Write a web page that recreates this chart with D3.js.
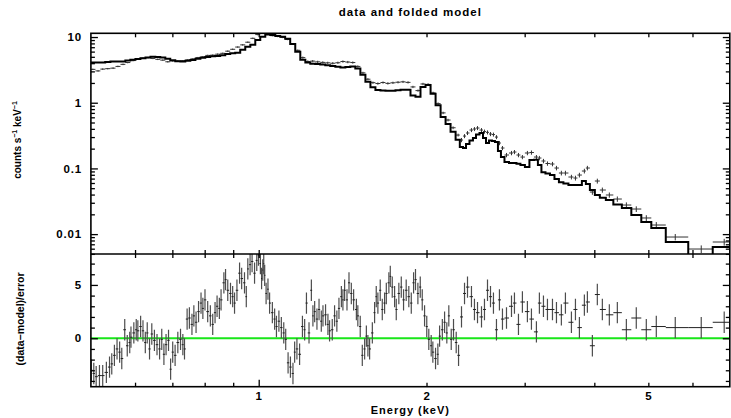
<!DOCTYPE html>
<html>
<head>
<script src="https://cdn.jsdelivr.net/npm/d3@7/dist/d3.min.js"></script>
<style>
  body { margin: 0; background: #fff; }
  svg { display: block; }
</style>
</head>
<body>
<svg id="chart" width="731" height="418"></svg>
<script>
// upper panel bins below 2.3 keV (keV)
const bandE = [0.504,0.515,0.525,0.536,0.548,0.559,0.571,0.582,0.595,0.607,
  0.620,0.633,0.646,0.659,0.673,0.687,0.701,0.716,0.731,0.746,
  0.762,0.778,0.794,0.810,0.827,0.844,0.862,0.880,0.898,0.917,
  0.936,0.956,0.976,0.996,
  1.017,1.038,1.060,1.082,1.104,1.127,1.151,1.175,1.200,1.225,
  1.250,1.276,1.303,1.330,1.358,1.387,1.416,1.445,1.475,1.506,
  1.538,1.570,1.603,1.636,1.671,1.705,1.741,1.778,1.815,1.853,
  1.891,1.931,1.971,2.013,2.055,2.098,2.142,2.186,2.232,2.279];
const bandRate = [3.22,3.05,3.25,3.30,3.36,3.57,3.84,4.09,4.38,4.60,
  4.76,4.86,4.73,4.58,4.45,4.20,4.33,4.31,4.36,4.49,
  4.65,4.86,5.00,5.25,5.30,5.48,5.65,6.09,6.51,7.04,
  7.60,8.34,9.56,10.9,
  12.0,11.0,10.5,10.2,9.87,9.18,7.86,6.28,4.86,4.24,
  4.30,4.19,4.11,4.05,3.99,4.06,4.24,4.16,4.09,3.57,
  2.85,2.28,2.02,1.96,2.03,1.97,2.01,2.05,2.08,2.04,
  1.74,1.53,1.93,1.90,1.41,0.97,0.70,0.545,0.416,0.322];
const bandErr = [0.08,0.08,0.08,0.08,0.09,0.09,0.10,0.10,0.11,0.12,
  0.12,0.12,0.12,0.12,0.11,0.11,0.11,0.11,0.11,0.11,
  0.12,0.12,0.13,0.13,0.13,0.14,0.14,0.15,0.16,0.18,
  0.19,0.21,0.24,0.27,
  0.30,0.27,0.26,0.26,0.25,0.23,0.20,0.16,0.19,0.17,
  0.17,0.17,0.16,0.16,0.16,0.16,0.17,0.17,0.16,0.14,
  0.11,0.09,0.08,0.08,0.08,0.08,0.08,0.08,0.08,0.08,
  0.07,0.06,0.08,0.08,0.06,0.04,0.03,0.025,0.02,0.016];
const bandModel = [4.09,4.09,4.09,4.16,4.24,4.24,4.26,4.38,4.53,4.64,
  4.76,4.86,5.00,4.98,4.90,4.69,4.45,4.28,4.26,4.35,
  4.49,4.69,4.83,4.98,5.09,5.16,5.28,5.50,5.65,5.77,
  6.40,7.09,7.60,9.02,
  10.1,10.9,10.7,10.4,10.1,9.40,7.86,5.97,4.53,4.09,
  3.93,3.87,3.82,3.71,3.63,3.54,3.45,3.50,3.55,3.33,
  2.66,2.08,1.72,1.56,1.53,1.52,1.52,1.55,1.58,1.57,
  1.29,1.23,1.73,1.86,1.37,0.913,0.606,0.474,0.362,0.272];

// wider bins above 2.3 keV, shared by both panels
const coarseE = [2.311,2.340,2.369,2.408,2.438,2.469,2.510,2.541,2.573,2.605,
  2.637,2.670,2.703,2.737,2.783,2.841,2.876,2.924,2.972,3.034,
  3.085,3.149,3.188,3.242,3.296,3.365,3.421,3.491,3.550,3.639,
  3.700,3.761,3.839,3.887,3.968,4.050,4.135,4.256,4.399,4.566,
  4.757,4.958,5.167,5.588,6.221,6.840];
const coarseRate = [0.2705,0.311,0.346,0.384,0.398,0.412,0.384,0.364,0.354,0.334,
  0.328,0.300,0.2435,0.2044,0.160,0.1716,0.1777,0.160,0.149,0.1716,
  0.1746,0.149,0.144,0.1297,0.1188,0.1167,0.1014,0.0851,0.0851,0.074,
  0.0714,0.0793,0.0913,0.1014,0.0437,0.0643,0.0469,0.0394,0.0342,0.0277,
  0.0241,0.0176,0.01375,0.00903,0.00593,0.00758];
const coarseErr = [0.02,0.022,0.024,0.027,0.028,0.029,0.027,0.026,0.025,0.024,
  0.023,0.021,0.018,0.015,0.012,0.013,0.013,0.012,0.011,0.013,
  0.013,0.011,0.011,0.010,0.009,0.009,0.008,0.007,0.007,0.006,
  0.006,0.0065,0.0075,0.008,0.004,0.0055,0.0042,0.0036,0.0032,0.0027,
  0.0024,0.0018,0.0015,0.001,0.0008,0.0009];
const coarseModel = [0.212,0.204,0.235,0.266,0.290,0.327,0.346,0.290,0.2435,0.266,
  0.261,0.252,0.184,0.149,0.125,0.121,0.121,0.118,0.113,0.105,
  0.134,0.136,0.113,0.0872,0.0836,0.0793,0.069,0.0614,0.0589,0.0559,
  0.0559,0.0559,0.0643,0.0579,0.0469,0.0394,0.0357,0.033,0.0282,0.0250,
  0.0195,0.0153,0.0124,0.00758,0.0048,0.00636];
const coarseRes = [2.0,4.2,4.8,3.9,2.7,2.4,2.0,2.7,4.5,3.9,
  3.3,0.8,3.6,1.8,1.9,3.0,3.3,1.3,3.4,2.5,
  1.8,0.6,3.3,3.0,2.7,2.7,2.4,2.2,3.3,1.5,
  2.7,1.0,3.1,3.4,-0.7,4.1,2.7,2.2,2.4,0.8,
  1.9,0.8,1.1,1.0,1.0,1.5];

// residual bins below 2.3 keV
const fineE = [0.501,0.506,0.511,0.518,0.525,0.533,0.540,0.545,0.551,0.557,
  0.563,0.568,0.575,0.581,0.587,0.590,0.597,0.603,0.607,0.614,
  0.620,0.626,0.631,0.637,0.643,0.650,0.657,0.664,0.670,0.676,
  0.682,0.689,0.695,0.701,0.708,0.716,0.724,0.731,0.736,0.744,
  0.751,0.759,0.765,0.772,0.780,0.788,0.794,0.801,0.810,0.819,
  0.827,0.835,0.842,0.850,0.856,0.866,0.872,0.880,0.890,0.898,
  0.905,0.914,0.924,0.932,0.943,0.950,0.956,0.965,0.973,0.983,
  0.992,0.999,1.007,1.012,1.017,1.021,1.025,1.031,1.039,1.046,
  1.058,1.068,1.076,1.087,1.098,1.109,1.118,1.129,1.140,1.152,
  1.160,1.171,1.184,1.198,1.209,1.218,1.231,1.243,1.251,1.260,
  1.272,1.283,1.295,1.304,1.318,1.331,1.340,1.355,1.368,1.381,
  1.393,1.407,1.416,1.426,1.440,1.452,1.466,1.480,1.497,1.506,
  1.521,1.534,1.549,1.560,1.570,1.581,1.599,1.614,1.625,1.636,
  1.652,1.666,1.682,1.694,1.712,1.722,1.736,1.753,1.765,1.784,
  1.802,1.819,1.839,1.859,1.878,1.896,1.911,1.930,1.949,1.965,
  1.984,2.002,2.019,2.039,2.053,2.076,2.096,2.111,2.135,2.155,
  2.175,2.193,2.215,2.236,2.261,2.283];
const fineRes = [-3.0,-3.3,-3.6,-3.5,-3.5,-3.2,-2.7,-2.4,-1.6,-1.0,
  -1.3,-1.9,0.8,-0.7,-0.4,0.1,0.5,0.8,0.7,1.1,
  0.7,-0.4,0.5,-1.0,0.4,-0.2,-0.6,-1.0,-0.1,-1.5,
  -0.6,-0.2,-2.9,-1.3,-1.6,-0.4,-0.1,-0.6,-1.0,1.8,
  1.9,1.3,2.1,1.5,2.5,3.3,2.8,3.6,2.5,2.1,
  1.3,2.4,3.0,2.8,3.6,5.2,5.5,4.5,4.2,3.9,
  3.3,4.5,6.1,5.6,5.2,3.9,6.5,6.9,7.2,6.1,
  7.3,7.8,7.0,5.6,6.4,7.0,5.9,4.2,4.6,3.3,
  2.4,1.8,1.1,1.6,1.0,0.5,-0.1,-2.3,-2.7,-3.3,
  -1.3,-1.0,-1.5,1.1,0.8,3.3,0.5,4.5,2.1,2.5,
  1.8,2.7,1.6,2.1,2.2,1.3,0.7,0.8,2.1,1.6,
  2.8,3.9,3.6,4.5,3.6,5.2,4.2,3.6,2.7,2.1,
  1.1,-1.6,-1.0,0.2,-0.7,-1.0,0.5,2.4,3.9,3.3,
  4.5,2.7,3.3,4.2,5.2,5.8,4.8,3.9,2.7,4.2,
  4.8,3.6,4.5,3.9,3.3,5.2,5.5,4.2,4.8,3.6,
  2.1,1.1,-0.1,-0.7,-1.3,-1.9,-1.5,0.2,0.8,1.5,
  0.5,2.1,-0.1,0.8,-0.4,-1.6];
const resSigma = 1;

const yMajor = [0.01, 0.1, 1, 10];
const xLabelled = [1, 2, 5];
const xMinor = [0.6, 0.7, 0.8, 0.9, 3, 4, 6];
const resMajor = [0, 5];
const resMinor = [-4, -3, -2, -1, 1, 2, 3, 4, 6, 7];

const specE = bandE.concat(coarseE);
const specRate = bandRate.concat(coarseRate);
const specErr = bandErr.concat(coarseErr);
const modelRate = bandModel.concat(coarseModel);
const resE = fineE.concat(coarseE);
const resVal = fineRes.concat(coarseRes);

const FONT = "'Liberation Sans', Arial, Helvetica, sans-serif";
const box = {left: 90.9, right: 729.8, top: 33.3, mid: 254, bottom: 386.7};
const svg = d3.select("#chart");

const x = d3.scaleLog().domain([0.5, 7]).range([box.left, box.right]);
const yc = d3.scaleLog().domain([0.00498, 11.4]).range([box.mid, box.top]);
const yr = d3.scaleLinear().domain([-4.54, 7.9]).range([box.bottom, box.mid]);

// bin edges halfway (in log) between neighbouring channels
function binEdges(E) {
  return E.map((e, i) => {
    const lo = i > 0 ? Math.sqrt(E[i - 1] * e) : e * e / Math.sqrt(e * E[i + 1]);
    const hi = i < E.length - 1 ? Math.sqrt(e * E[i + 1]) : e * e / Math.sqrt(E[i - 1] * e);
    return [lo, hi];
  });
}
const specBins = binEdges(specE);
const resBins = binEdges(resE);

const defs = svg.append("defs");
defs.append("clipPath").attr("id", "clipTop").append("rect")
  .attr("x", box.left).attr("y", box.top)
  .attr("width", box.right - box.left).attr("height", box.mid - box.top);
defs.append("clipPath").attr("id", "clipBot").append("rect")
  .attr("x", box.left).attr("y", box.mid)
  .attr("width", box.right - box.left).attr("height", box.bottom - box.mid);

// ---- upper panel: data crosses + folded model
const upper = svg.append("g").attr("clip-path", "url(#clipTop)");
const spec = specE.map((e, i) => ({e, lo: specBins[i][0], hi: specBins[i][1], v: specRate[i], s: specErr[i]}));

upper.selectAll("line.ev").data(spec).enter().append("line")
  .attr("x1", d => x(d.e)).attr("x2", d => x(d.e))
  .attr("y1", d => yc(d.v - d.s)).attr("y2", d => yc(d.v + d.s))
  .attr("stroke", "#333").attr("stroke-width", 1);
upper.selectAll("line.eh").data(spec).enter().append("line")
  .attr("x1", d => x(d.lo)).attr("x2", d => x(d.hi))
  .attr("y1", d => yc(d.v)).attr("y2", d => yc(d.v))
  .attr("stroke", "#333").attr("stroke-width", 1);

const stepPts = [];
specBins.forEach((b, i) => { stepPts.push([b[0], modelRate[i]], [b[1], modelRate[i]]); });
upper.append("path")
  .attr("d", d3.line().x(d => x(d[0])).y(d => yc(d[1]))(stepPts))
  .attr("fill", "none").attr("stroke", "#000").attr("stroke-width", 2);

// ---- lower panel: residuals
const lower = svg.append("g").attr("clip-path", "url(#clipBot)");
const res = resE.map((e, i) => ({e, lo: resBins[i][0], hi: resBins[i][1], r: resVal[i]}));

lower.append("line")
  .attr("x1", box.left).attr("x2", box.right)
  .attr("y1", yr(0)).attr("y2", yr(0))
  .attr("stroke", "#19e619").attr("stroke-width", 2);
lower.selectAll("line.rv").data(res).enter().append("line")
  .attr("x1", d => x(d.e)).attr("x2", d => x(d.e))
  .attr("y1", d => yr(d.r - resSigma)).attr("y2", d => yr(d.r + resSigma))
  .attr("stroke", "#4d4d4d").attr("stroke-width", 1.2);
lower.selectAll("line.rh").data(res).enter().append("line")
  .attr("x1", d => x(d.lo)).attr("x2", d => x(d.hi))
  .attr("y1", d => yr(d.r)).attr("y2", d => yr(d.r))
  .attr("stroke", "#222").attr("stroke-width", 1);

// ---- frames and ticks
svg.append("rect").attr("x", box.left).attr("y", box.top)
  .attr("width", box.right - box.left).attr("height", box.bottom - box.top)
  .attr("fill", "none").attr("stroke", "#000").attr("stroke-width", 1.6);
svg.append("line").attr("x1", box.left).attr("x2", box.right)
  .attr("y1", box.mid).attr("y2", box.mid)
  .attr("stroke", "#000").attr("stroke-width", 1.6);

function addAxis(axis, tx, ty) {
  return svg.append("g").attr("transform", `translate(${tx},${ty})`).call(axis)
    .call(g => g.select(".domain").remove())
    .call(g => g.selectAll(".tick line").attr("stroke", "#000").attr("stroke-width", 1.3))
    .call(g => g.selectAll("text").attr("font-family", FONT).attr("font-weight", "bold")
      .attr("font-size", 11.5).attr("letter-spacing", 0.8).attr("fill", "#000"));
}
const yMinor = yc.ticks().filter(v => !yMajor.some(m => Math.abs(m - v) / m < 1e-6));

addAxis(d3.axisLeft(yc).tickValues(yMajor).tickFormat(d3.format("~g")).tickSize(-7).tickPadding(9), box.left, 0);
addAxis(d3.axisLeft(yc).tickValues(yMinor).tickFormat("").tickSize(-4), box.left, 0);
addAxis(d3.axisRight(yc).tickValues(yMajor).tickFormat("").tickSize(-7), box.right, 0);
addAxis(d3.axisRight(yc).tickValues(yMinor).tickFormat("").tickSize(-4), box.right, 0);

addAxis(d3.axisLeft(yr).tickValues(resMajor).tickFormat(d3.format("d")).tickSize(-7).tickPadding(9), box.left, 0);
addAxis(d3.axisLeft(yr).tickValues(resMinor).tickFormat("").tickSize(-4), box.left, 0);
addAxis(d3.axisRight(yr).tickValues(resMajor).tickFormat("").tickSize(-7), box.right, 0);
addAxis(d3.axisRight(yr).tickValues(resMinor).tickFormat("").tickSize(-4), box.right, 0);

const xAll = xLabelled.concat(xMinor);
addAxis(d3.axisBottom(x).tickValues(xLabelled).tickFormat(d3.format("d")).tickSize(-4).tickPadding(5), 0, box.bottom)
  .selectAll(".tick line").attr("y2", d => d === 1 ? -7 : -4);
addAxis(d3.axisBottom(x).tickValues(xMinor).tickFormat("").tickSize(-4), 0, box.bottom);
addAxis(d3.axisTop(x).tickValues(xAll).tickFormat("").tickSize(-4), 0, box.top);
addAxis(d3.axisBottom(x).tickValues(xAll).tickFormat("").tickSize(-4), 0, box.mid);
addAxis(d3.axisTop(x).tickValues(xAll).tickFormat("").tickSize(-4), 0, box.mid);

// ---- titles
const cx = (box.left + box.right) / 2;
svg.append("text").attr("x", cx).attr("y", 16).attr("text-anchor", "middle")
  .attr("font-family", FONT).attr("font-weight", "bold").attr("font-size", 11.5)
  .attr("letter-spacing", 1).text("data and folded model");
svg.append("text").attr("x", cx).attr("y", 414).attr("text-anchor", "middle")
  .attr("font-family", FONT).attr("font-weight", "bold").attr("font-size", 11)
  .attr("letter-spacing", 1).text("Energy (keV)");

const yl = svg.append("text").attr("transform", "translate(21,140) rotate(-90)")
  .attr("text-anchor", "middle").attr("font-family", FONT)
  .attr("font-weight", "bold").attr("font-size", 10);
yl.append("tspan").text("counts s");
yl.append("tspan").attr("dy", -4).attr("font-size", 7).text("\u22121");
yl.append("tspan").attr("dy", 4).text(" keV");
yl.append("tspan").attr("dy", -4).attr("font-size", 7).text("\u22121");

svg.append("text").attr("transform", "translate(24,319) rotate(-90)")
  .attr("text-anchor", "middle").attr("font-family", FONT)
  .attr("font-weight", "bold").attr("font-size", 10.5)
  .text("(data\u2212model)/error");
</script>
</body>
</html>
